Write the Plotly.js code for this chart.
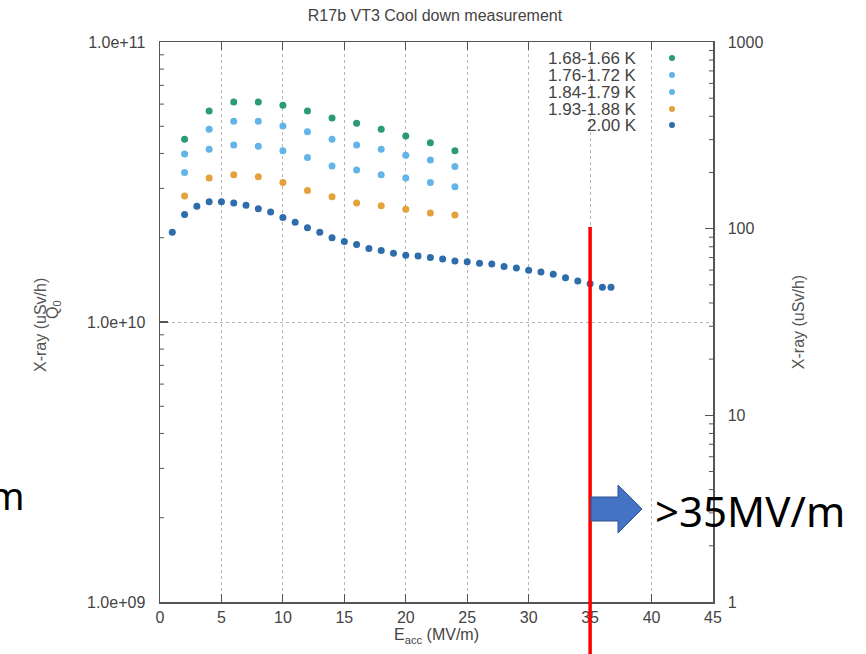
<!DOCTYPE html>
<html>
<head>
<meta charset="utf-8">
<script src="https://cdn.plot.ly/plotly-3.0.1.min.js"></script>
<style>html,body{margin:0;padding:0;background:#fff;}#chart{width:866px;height:654px;}</style>
</head>
<body>
<div id="chart"></div>
<script>
// ---- data ----
const seriesNames = ['1.68-1.66 K', '1.76-1.72 K', '1.84-1.79 K', '1.93-1.88 K', '2.00 K'];
const eaccCold = [2, 4, 6, 8, 10, 12, 14, 16, 18, 20, 22, 24];
const q0_168 = [4.49e10, 5.67e10, 6.11e10, 6.11e10, 5.94e10, 5.67e10, 5.35e10, 5.13e10, 4.88e10, 4.62e10, 4.37e10, 4.09e10];
const q0_176 = [3.98e10, 4.88e10, 5.21e10, 5.21e10, 5.01e10, 4.78e10, 4.49e10, 4.29e10, 4.14e10, 3.94e10, 3.79e10, 3.59e10];
const q0_184 = [3.42e10, 4.14e10, 4.29e10, 4.24e10, 4.09e10, 3.87e10, 3.61e10, 3.49e10, 3.36e10, 3.27e10, 3.15e10, 3.04e10];
const q0_193 = [2.82e10, 3.27e10, 3.36e10, 3.30e10, 3.15e10, 2.95e10, 2.80e10, 2.66e10, 2.60e10, 2.53e10, 2.45e10, 2.41e10];
const eacc200 = [1, 2, 3, 4, 5, 6, 7, 8, 9, 10, 11, 12, 13, 14, 15, 16, 17, 18, 19, 20, 21, 22, 23, 24, 25, 26, 27, 28, 29, 30, 31, 32, 33, 34, 35, 36, 36.7];
const q0_200 = [2.09e10, 2.42e10, 2.59e10, 2.69e10, 2.69e10, 2.66e10, 2.61e10, 2.54e10, 2.47e10, 2.36e10, 2.27e10, 2.17e10, 2.09e10, 2.00e10, 1.94e10, 1.89e10, 1.83e10, 1.80e10, 1.76e10, 1.73e10, 1.72e10, 1.70e10, 1.68e10, 1.65e10, 1.64e10, 1.62e10, 1.61e10, 1.58e10, 1.56e10, 1.53e10, 1.51e10, 1.48e10, 1.44e10, 1.40e10, 1.37e10, 1.33e10, 1.33e10];
const xTicks = [0, 5, 10, 15, 20, 25, 30, 35, 40, 45];
const yTickVals = [1e9, 1e10, 1e11];
const yTickText = ['1.0e+09', '1.0e+10', '1.0e+11'];
const y2TickVals = [1, 10, 100, 1000];
const y2TickText = ['1', '10', '100', '1000'];
const markerLineX = 35;
const calloutText = '>35MV/m';

// ---- styling ----
const colors = ['#2a9b72', '#62b5e6', '#62b5e6', '#e5a23a', '#2e6dab'];
const W = 866, H = 654, L = 160, R = 153, T = 42, B = 52;
const PW = W - L - R, PH = H - T - B;
const px = p => (p - L) / PW;
const py = p => (H - B - p) / PH;
const axisColor = '#555';
const fontFam = 'Liberation Sans, Arial, sans-serif';
const yRange = [9, 11], y2Range = [0, 3];

const ys = [q0_168, q0_176, q0_184, q0_193];
const traces = ys.map((y, i) => ({
  x: eaccCold, y: y, type: 'scatter', mode: 'markers', name: seriesNames[i],
  marker: {color: colors[i], size: 7}, showlegend: false, xaxis: 'x', yaxis: 'y'
}));
traces.push({
  x: eacc200, y: q0_200, type: 'scatter', mode: 'markers', name: seriesNames[4],
  marker: {color: colors[4], size: 7}, showlegend: false, xaxis: 'x', yaxis: 'y'
});
// invisible trace to activate right axis
traces.push({x: [0], y: [1], type: 'scatter', mode: 'markers', marker: {opacity: 0}, showlegend: false, hoverinfo: 'skip', yaxis: 'y2'});

const shapes = [];
const annotations = [];

// minor log ticks (axis decoration)
const tickFrac = (v, r) => (Math.log10(v) - r[0]) / (r[1] - r[0]);
for (let d = 1e9; d < 1e11; d *= 10) for (let k = 2; k <= 9; k++) {
  const f = tickFrac(k * d, yRange);
  shapes.push({type: 'line', xref: 'paper', yref: 'paper', x0: 0, x1: 4 / PW, y0: f, y1: f, line: {color: axisColor, width: 1}});
}
for (let d = 1; d < 1000; d *= 10) for (let k = 2; k <= 9; k++) {
  const f = tickFrac(k * d, y2Range);
  shapes.push({type: 'line', xref: 'paper', yref: 'paper', x0: 1 - 4 / PW, x1: 1, y0: f, y1: f, line: {color: axisColor, width: 1}});
}

// legend (text right, marker at right)
const legY = [58, 75, 92, 109, 125];
seriesNames.forEach((n, i) => {
  annotations.push({xref: 'paper', yref: 'paper', x: px(638), y: py(legY[i]), xanchor: 'right', yanchor: 'middle',
    text: n, showarrow: false, height: 15, borderpad: 0, font: {family: fontFam, size: 17, color: '#444'}});
  shapes.push({type: 'circle', xref: 'paper', yref: 'paper', x0: px(669), x1: px(675), y0: py(legY[i] + 3), y1: py(legY[i] - 3),
    fillcolor: colors[i], line: {width: 0}});
});
// red vertical line
shapes.push({type: 'line', xref: 'x', yref: 'paper', x0: markerLineX, x1: markerLineX, y0: py(660), y1: py(227),
  line: {color: '#ff0000', width: 3.5}});
// blue arrow
const ax = [591, 618, 618, 642, 618, 618, 591];
const ay = [497, 497, 485, 509, 533, 521, 521];
let path = '';
ax.forEach((v, i) => { path += (i === 0 ? 'M' : 'L') + px(v) + ',' + py(ay[i]); });
path += 'Z';
shapes.push({type: 'path', xref: 'paper', yref: 'paper', path: path, fillcolor: '#4472c4', line: {color: '#2f528f', width: 1}});

annotations.push({xref: 'paper', yref: 'paper', x: px(653), y: py(510), xanchor: 'left', yanchor: 'middle',
  text: calloutText, showarrow: false, font: {family: 'Noto Sans, sans-serif', size: 42, color: '#000'}});
annotations.push({xref: 'paper', yref: 'paper', x: px(27), y: py(495), xanchor: 'right', yanchor: 'middle',
  text: 'm', showarrow: false, font: {family: 'Noto Sans, sans-serif', size: 38, color: '#000'}});
// left overlapping axis labels
annotations.push({xref: 'paper', yref: 'paper', x: px(40), y: py(325), xanchor: 'center', yanchor: 'middle', textangle: -90,
  text: 'X-ray (uSv/h)', showarrow: false, font: {family: fontFam, size: 16, color: '#555'}});
annotations.push({xref: 'paper', yref: 'paper', x: px(53), y: py(310), xanchor: 'center', yanchor: 'middle', textangle: -90,
  text: 'Q<sub>0</sub>', showarrow: false, font: {family: fontFam, size: 16, color: '#555'}});

const layout = {
  width: W, height: H,
  margin: {l: L, r: R, t: T, b: B, pad: 0},
  paper_bgcolor: '#fff', plot_bgcolor: '#fff',
  font: {family: fontFam, color: '#444', size: 16},
  showlegend: false,
  title: {text: 'R17b VT3 Cool down measurement', x: px(435), xanchor: 'center', xref: 'paper',
    y: 1 - 15 / H, yref: 'container', yanchor: 'middle', font: {family: fontFam, size: 16, color: '#444'}},
  xaxis: {
    range: [0, 45], tickvals: xTicks, ticktext: xTicks.map(String),
    ticks: 'inside', ticklen: 8, tickcolor: axisColor, tickwidth: 1.2,
    showline: true, linecolor: axisColor, linewidth: 1.5, mirror: 'ticks',
    showgrid: true, gridcolor: '#b5b5b5', griddash: 'dot', gridwidth: 1,
    zeroline: false, tickfont: {size: 16, color: '#444'},
    title: {text: 'E<sub>acc</sub> (MV/m)', font: {size: 16, color: '#444'}, standoff: 4},
    automargin: false
  },
  yaxis: {
    type: 'log', range: yRange, tickvals: yTickVals, ticktext: yTickText,
    ticks: 'inside', ticklen: 8, tickcolor: axisColor, tickwidth: 1.2,
    showline: true, linecolor: axisColor, linewidth: 1.5,
    showgrid: true, gridcolor: '#b5b5b5', griddash: 'dot', gridwidth: 1,
    zeroline: false, tickfont: {size: 16, color: '#444'}, ticklabelstandoff: 10,
    automargin: false
  },
  yaxis2: {
    type: 'log', range: y2Range, overlaying: 'y', side: 'right', tickvals: y2TickVals, ticktext: y2TickText,
    ticks: 'inside', ticklen: 8, tickcolor: axisColor, tickwidth: 1.2,
    showline: true, linecolor: axisColor, linewidth: 1.5, showgrid: false,
    zeroline: false, tickfont: {size: 16, color: '#444'}, ticklabelstandoff: 10,
    title: {text: 'X-ray (uSv/h)', font: {size: 16, color: '#555'}, standoff: 30},
    automargin: false
  },
  shapes: shapes,
  annotations: annotations
};

Plotly.newPlot('chart', traces, layout, {displayModeBar: false, staticPlot: true});
</script>
</body>
</html>
